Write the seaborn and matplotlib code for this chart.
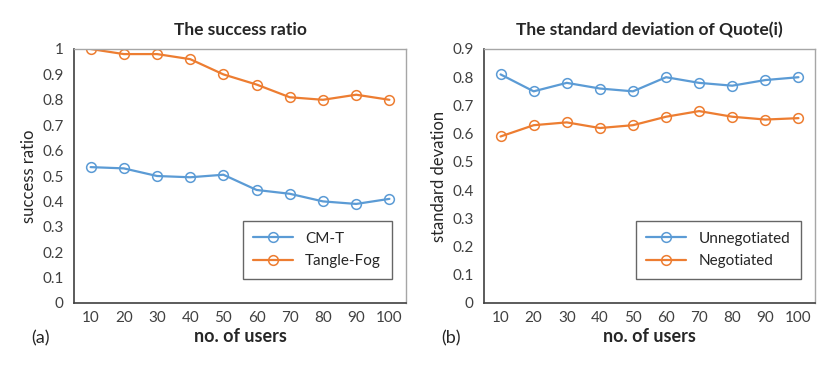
import pandas as pd
import matplotlib.pyplot as plt
import seaborn as sns
from matplotlib.lines import Line2D
from matplotlib.ticker import FixedLocator

users = ["10", "20", "30", "40", "50", "60", "70", "80", "90", "100"]

cmt = [0.535, 0.53, 0.50, 0.495, 0.505, 0.445, 0.43, 0.40, 0.39, 0.41]
tangle_fog = [1.0, 0.98, 0.98, 0.96, 0.90, 0.86, 0.81, 0.80, 0.82, 0.80]

unnegotiated = [0.81, 0.75, 0.78, 0.76, 0.75, 0.80, 0.78, 0.77, 0.79, 0.80]
negotiated = [0.59, 0.63, 0.64, 0.62, 0.63, 0.66, 0.68, 0.66, 0.65, 0.655]

blue = "#5B9BD5"
orange = "#ED7D31"

sns.set_style("white")
plt.rcParams["font.family"] = ["Lato", "DejaVu Sans"]

df_a = pd.DataFrame({
    "users": users * 2,
    "value": cmt + tangle_fog,
    "series": ["CM-T"] * 10 + ["Tangle-Fog"] * 10,
})
df_b = pd.DataFrame({
    "users": users * 2,
    "value": unnegotiated + negotiated,
    "series": ["Unnegotiated"] * 10 + ["Negotiated"] * 10,
})

fig = plt.figure(figsize=(8.26, 3.67), dpi=100)
ax1 = fig.add_axes([74 / 826, 1 - 303 / 367, 332 / 826, 254 / 367])
ax2 = fig.add_axes([484 / 826, 1 - 303 / 367, 331 / 826, 254 / 367])


def draw(ax, df, names, ymax, title, ylabel, tag):
    sns.lineplot(data=df, x="users", y="value", hue="series", hue_order=names,
                 palette=[blue, orange], marker="o", markersize=7,
                 linewidth=1.6, ax=ax, legend=False)
    # open markers with series colour edges
    for line, c in zip(ax.get_lines(), [blue, orange]):
        line.set_markeredgecolor(c)
        line.set_markerfacecolor("none")
        line.set_markeredgewidth(1.1)
    ax.set_xlim(-0.5, 9.5)
    ax.set_ylim(0, ymax)
    n = int(round(ymax * 10)) + 1
    ax.set_yticks([i / 10 for i in range(n)])
    ax.set_yticklabels(["0" if i == 0 else ("1" if i == 10 else f"0.{i}")
                        for i in range(n)])
    ax.xaxis.set_minor_locator(FixedLocator([i - 0.5 for i in range(11)]))
    ax.tick_params(axis="x", which="major", length=0, labelsize=11, pad=6,
                   labelcolor="#404040")
    ax.tick_params(axis="x", which="minor", length=4, width=1, color="#404040",
                   direction="out")
    ax.tick_params(axis="y", length=4, width=1, color="#404040", labelsize=11,
                   labelcolor="#404040", direction="out")
    for side in ["left", "bottom"]:
        ax.spines[side].set_color("#404040")
        ax.spines[side].set_linewidth(1.2)
    for side in ["top", "right"]:
        ax.spines[side].set_color("#A6A6A6")
        ax.spines[side].set_linewidth(1)
    ax.set_title(title, fontsize=12.5, fontweight="bold", pad=10)
    ax.set_ylabel(ylabel, fontsize=12, labelpad=4)
    ax.set_xlabel("no. of users", fontsize=13, fontweight="bold", labelpad=2)
    ax.text(-0.13, -0.16, tag, transform=ax.transAxes, fontsize=13)
    handles = [Line2D([], [], color=c, linewidth=1.6, marker="o", markersize=7,
                      markerfacecolor="none", markeredgecolor=c,
                      markeredgewidth=1.1)
               for c in [blue, orange]]
    leg = ax.legend(handles, names, loc="lower right",
                    bbox_to_anchor=(0.98, 0.065), frameon=True,
                    fancybox=False, fontsize=11, borderpad=0.7,
                    handlelength=2.6, labelspacing=0.55)
    leg.get_frame().set_edgecolor("#404040")
    leg.get_frame().set_linewidth(1)


draw(ax1, df_a, ["CM-T", "Tangle-Fog"], 1.0, "The success ratio",
     "success ratio", "(a)")
draw(ax2, df_b, ["Unnegotiated", "Negotiated"], 0.9,
     "The standard deviation of Quote(i)", "standard devation", "(b)")

fig.savefig("out.png", dpi=100)
